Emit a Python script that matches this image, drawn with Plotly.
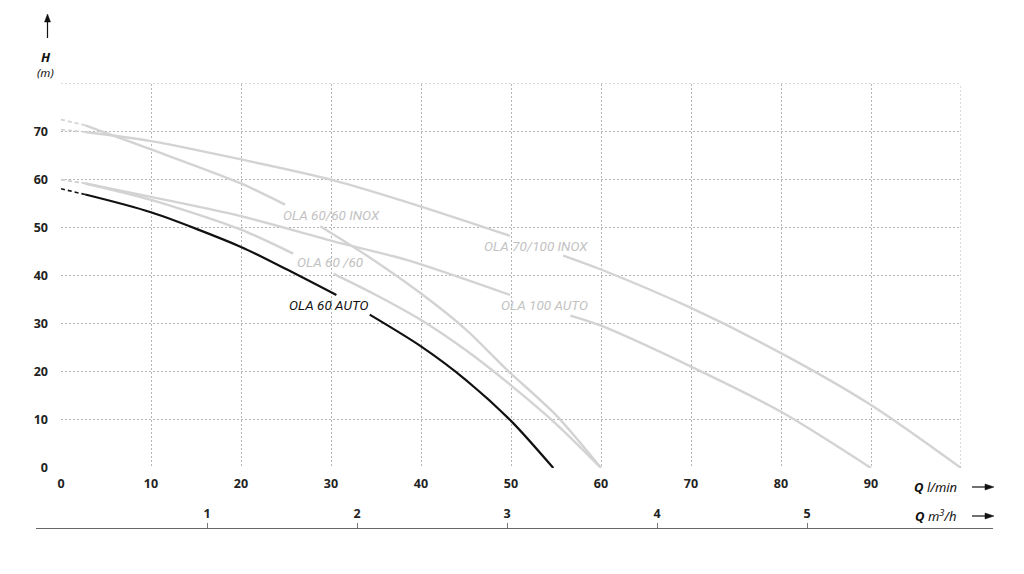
import plotly.graph_objects as go

# ---------------- data ----------------
x_ticks = [0, 10, 20, 30, 40, 50, 60, 70, 80, 90]
y_ticks = [0, 10, 20, 30, 40, 50, 60, 70]
m3h_ticks = [1, 2, 3, 4, 5]
x_max, y_max = 100, 80

# Q (l/min) and H (m); None = gap where the curve label sits
q_60_auto = [0, 2.7, 10, 20, 25, 30.6, None, 34.3, 40, 45, 50, 54.7]
h_60_auto = [58.1, 56.9, 53.2, 46.0, 41.4, 36.0, None, 31.9, 25.3, 18.3, 9.8, 0]

q_60_60 = [0, 2.7, 10, 20, 25.8, None, 30.3, 35, 40, 45, 50, 55, 60]
h_60_60 = [60.0, 59.2, 55.8, 49.6, 44.6, None, 40.4, 36.0, 30.8, 24.5, 17.2, 9.2, 0]

q_60_60_inox = [0, 2.7, 10, 20, 24.9, None, 28.8, 34.3, 40, 45, 49.5, 55, 60]
h_60_60_inox = [72.5, 71.3, 66.3, 59.2, 54.8, None, 50.3, 43.8, 36.3, 28.8, 20.5, 11.0, 0]

q_100_auto = [0, 2.7, 10, 20, 30.4, 38.4, 49.9, None, 56.6, 60, 70, 80, 90]
h_100_auto = [60.0, 59.2, 56.4, 52.4, 47.1, 43.3, 36.0, None, 31.7, 29.6, 21.1, 11.7, 0]

q_70_100_inox = [0, 2.7, 10, 20, 30, 40, 49.9, None, 55.8, 60, 70, 80, 90, 100]
h_70_100_inox = [70.4, 69.9, 68.0, 64.2, 60.0, 54.4, 48.3, None, 44.2, 41.3, 33.3, 23.9, 13.1, 0]

curves = [
    ("OLA 60/60 INOX", q_60_60_inox, h_60_60_inox, 30.1, 52.7),
    ("OLA 70/100 INOX", q_70_100_inox, h_70_100_inox, 52.8, 46.25),
    ("OLA 100 AUTO", q_100_auto, h_100_auto, 53.7, 34.0),
    ("OLA 60 /60", q_60_60, h_60_60, 29.9, 42.8),
    ("OLA 60 AUTO", q_60_auto, h_60_auto, 29.8, 34.0),
]

GRAY_LINE = "#d3d3d3"
GRAY_TEXT = "#c2c2c2"
GRID = "#b5b5b5"
# the page body has an 8px margin: lay out in page pixels, shifted by it
OFF = 8
W, H = 1016, 566


def px(x):
    return (x - OFF) / W


def py(y):
    return 1 - (y - OFF) / H


fig = go.Figure()

annotations = []
for name, q, h, lq, lh in curves:
    is_black = name == "OLA 60 AUTO"
    color = "#111111" if is_black else GRAY_LINE
    width = 2.2 if is_black else 2.4
    # dashed start (first two points)
    fig.add_trace(go.Scatter(x=q[:2], y=h[:2], mode="lines",
                             line=dict(color=color, width=width - 0.6, dash="4px,3px"),
                             showlegend=False, hoverinfo="skip"))
    # solid curve
    fig.add_trace(go.Scatter(x=q[1:], y=h[1:], mode="lines",
                             line=dict(color=color, width=width, shape="spline", smoothing=0.8),
                             connectgaps=False, showlegend=False, hoverinfo="skip"))
    annotations.append(dict(x=lq, y=lh, xref="x", yref="y", text=name, showarrow=False,
                            xanchor="center", yanchor="middle",
                            font=dict(family="Roboto", size=13.5, style="italic",
                                      color="#111111" if is_black else GRAY_TEXT)))

# dummy trace for the m3/h axis
fig.add_trace(go.Scatter(x=[None], y=[None], xaxis="x2", yaxis="y2",
                         showlegend=False, hoverinfo="skip"))

tickfont = dict(family="Noto Sans", size=12.5, color="#222222", weight="bold")
gridstyle = dict(showgrid=True, gridcolor=GRID, gridwidth=1, griddash="2px,2px",
                 zeroline=False, showline=False, ticks="", automargin=False)

fig.update_layout(
    template="plotly",
    width=W, height=H,
    margin=dict(l=0, r=0, t=0, b=0, pad=0, autoexpand=False),
    paper_bgcolor="white", plot_bgcolor="white",
    xaxis=dict(domain=[px(61), px(961)], range=[0, x_max], tickvals=x_ticks,
               ticktext=[str(v) for v in x_ticks], tickfont=tickfont,
               ticklabelstandoff=6, **gridstyle),
    yaxis=dict(domain=[py(468), py(83.5)], range=[0, y_max], tickvals=y_ticks,
               ticktext=[str(v) for v in y_ticks], tickfont=tickfont,
               ticklabelstandoff=12, **gridstyle),
    xaxis2=dict(domain=[px(36), px(993)], range=[(36 - 57) / 150, (993 - 57) / 150],
                anchor="y2", side="top", tickvals=m3h_ticks,
                ticktext=[str(v) for v in m3h_ticks],
                showline=True, linecolor="#666666", linewidth=1.3,
                ticks="outside", ticklen=5, tickwidth=1, tickcolor="#777777",
                tickfont=tickfont, showgrid=False, zeroline=False, automargin=False),
    yaxis2=dict(domain=[py(545), py(529)], range=[0, 1], visible=False, automargin=False),
    showlegend=False,
)

# axis titles
title_font = dict(family="Noto Sans", size=13, color="#111111")
annotations += [
    dict(x=px(46), y=py(57), text="<b><i>H</i></b>", font=title_font),
    dict(x=px(45), y=py(72), text="<i>(m)</i>",
         font=dict(family="Noto Sans", size=11.5, color="#111111")),
    dict(x=px(935), y=py(487), text="<b><i>Q</i></b> <i>l/min</i>", font=title_font),
    dict(x=px(935), y=py(515), text="<b><i>Q</i></b> <i>m<sup>3</sup>/h</i>", font=title_font),
]
for a in annotations[-4:]:
    a.update(xref="paper", yref="paper", showarrow=False, xanchor="center", yanchor="middle")
fig.update_layout(annotations=annotations)

shapes = []
# outer dotted frame (top and right edges of the grid)
shapes.append(dict(type="line", xref="x", yref="y", x0=0, x1=x_max, y0=y_max, y1=y_max,
                   line=dict(color=GRID, width=1, dash="2px,2px")))
shapes.append(dict(type="line", xref="x", yref="y", x0=x_max, x1=x_max, y0=0, y1=y_max,
                   line=dict(color=GRID, width=1, dash="2px,2px")))
# up arrow for H
shapes.append(dict(type="line", xref="paper", yref="paper",
                   x0=px(47.5), x1=px(47.5), y0=py(38), y1=py(20),
                   line=dict(color="#111111", width=1.2)))
shapes.append(dict(type="path", xref="paper", yref="paper",
                   path=f"M {px(44.5)},{py(22)} L {px(47.5)},{py(14)} L {px(50.5)},{py(22)} Z",
                   fillcolor="#111111", line=dict(color="#111111", width=0.5)))
# right arrows for Q
for yy in (487, 516):
    shapes.append(dict(type="line", xref="paper", yref="paper",
                       x0=px(972), x1=px(988), y0=py(yy), y1=py(yy),
                       line=dict(color="#111111", width=1.2)))
    shapes.append(dict(type="path", xref="paper", yref="paper",
                       path=f"M {px(985)},{py(yy - 3)} L {px(994)},{py(yy)} L {px(985)},{py(yy + 3)} Z",
                       fillcolor="#111111", line=dict(color="#111111", width=0.5)))
fig.update_layout(shapes=shapes)

fig.write_html("out.html")
